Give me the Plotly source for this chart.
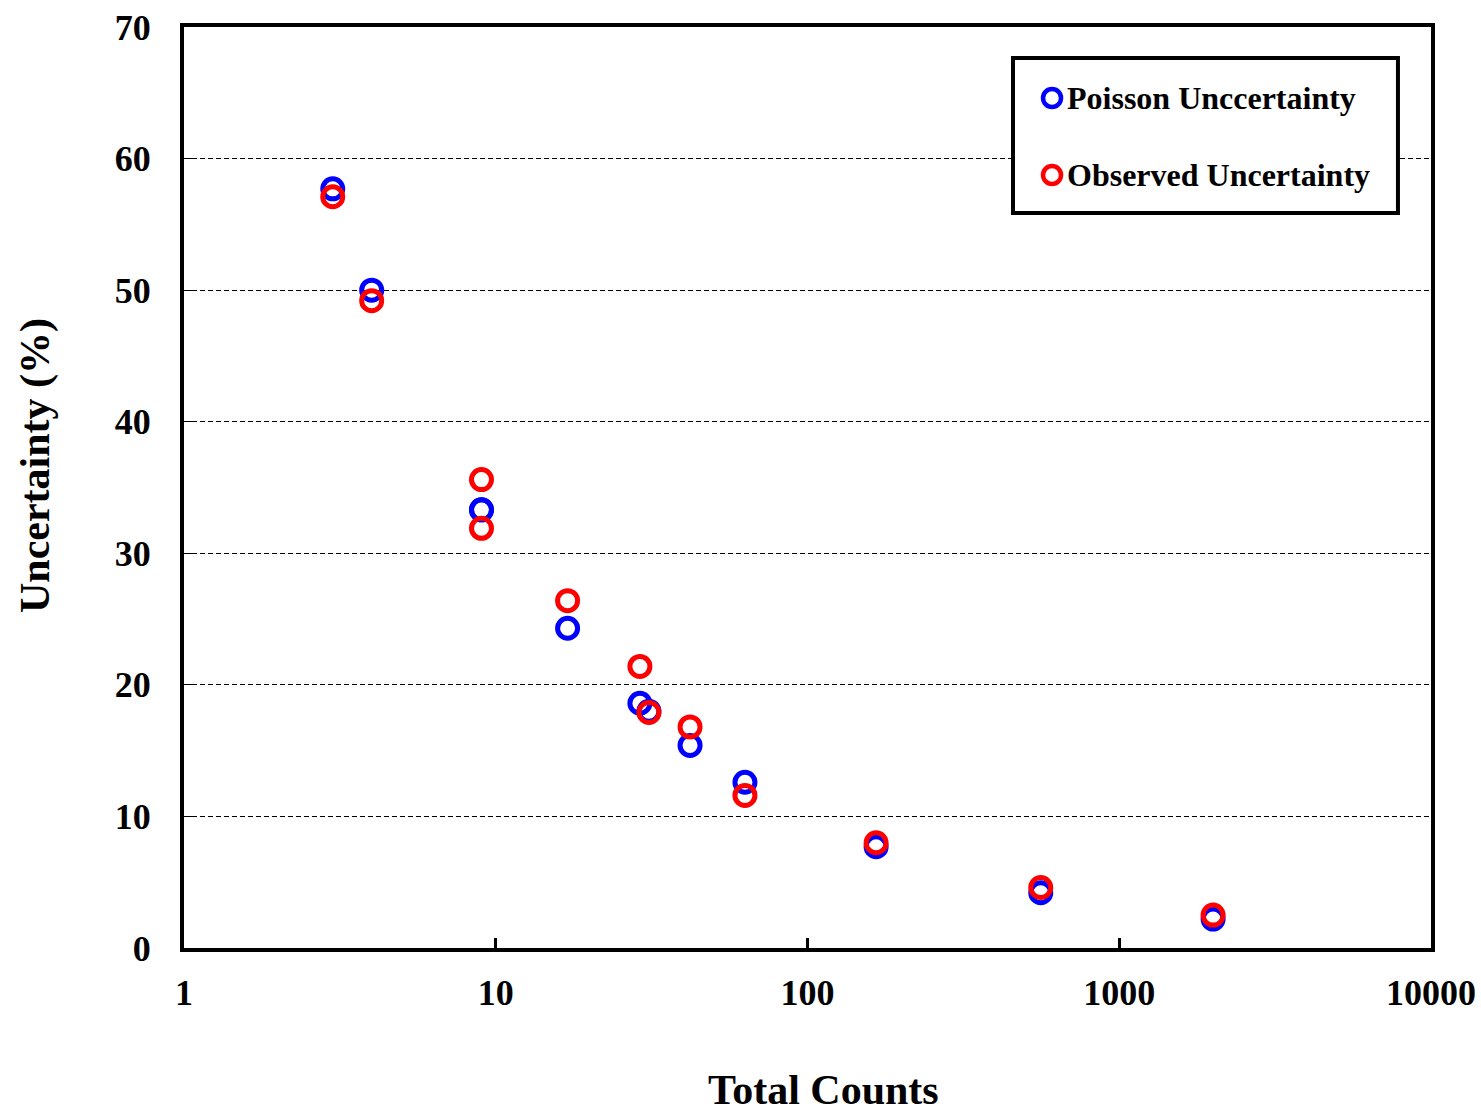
import plotly.graph_objects as go

# Total counts for each measurement (log x axis)
total_counts = [3, 4, 9, 9, 17, 29, 31, 42, 63, 166, 560, 2000]
# Poisson (1/sqrt(N)) uncertainty, in percent
poisson_unc = [57.7, 50.0, 33.3, 33.3, 24.3, 18.6, 18.0, 15.4, 12.6, 7.7, 4.2, 2.2]
# Observed uncertainty, in percent
observed_unc = [57.1, 49.2, 35.6, 31.9, 26.4, 21.4, 17.9, 16.8, 11.6, 8.0, 4.6, 2.5]

series_names = ["Poisson Unccertainty", "Observed Uncertainty"]
series_colors = ["#0000ff", "#ff0000"]

x_tick_vals = [1, 10, 100, 1000, 10000]
x_tick_text = ["1", "10", "100", "1000", "10000"]
y_tick_vals = [0, 10, 20, 30, 40, 50, 60, 70]

FONT = "Times New Roman, Liberation Serif, serif"

fig = go.Figure()
for name, ys, col in zip(series_names, [poisson_unc, observed_unc], series_colors):
    fig.add_trace(go.Scatter(
        x=total_counts, y=ys, mode="markers", name=name, showlegend=False,
        marker=dict(symbol="circle-open", size=20, color=col,
                    line=dict(width=5, color=col)),
    ))

# Boxed legend in the upper right of the plot area
shapes = [dict(type="rect", xref="paper", yref="paper",
               x0=0.6648, x1=0.9735, y0=0.798, y1=0.9663,
               line=dict(color="black", width=4), fillcolor="white", layer="above")]
annotations = []
legend_rows_y = [0.9229, 0.8393]
for name, col, ry in zip(series_names, series_colors, legend_rows_y):
    shapes.append(dict(type="circle", xref="paper", yref="paper",
                       xsizemode="pixel", ysizemode="pixel",
                       xanchor=0.6961, yanchor=ry,
                       x0=-9, x1=9, y0=-9, y1=9,
                       line=dict(color=col, width=4.5), layer="above"))
    annotations.append(dict(xref="paper", yref="paper", x=0.7065, y=ry,
                            xanchor="left", yanchor="middle", showarrow=False,
                            text="<b>" + name + "</b>",
                            font=dict(family=FONT, size=32, color="black")))

# Axis titles
annotations.append(dict(xref="paper", yref="paper", x=0.5132, y=-0.1542,
                        xanchor="center", yanchor="middle", showarrow=False,
                        text="<b>Total Counts</b>",
                        font=dict(family=FONT, size=42, color="black")))
annotations.append(dict(xref="paper", yref="paper", x=0, y=0.5233, xshift=-149,
                        xanchor="center", yanchor="middle", showarrow=False,
                        textangle=-90, text="<b>Uncertainty (%)</b>",
                        font=dict(family=FONT, size=42, color="black")))

fig.update_layout(
    width=1481, height=1113,
    margin=dict(l=184, r=50, t=27, b=165),
    paper_bgcolor="white", plot_bgcolor="white",
    font=dict(family=FONT, color="black"),
    showlegend=False,
    shapes=shapes,
    annotations=annotations,
    xaxis=dict(
        type="log", range=[0, 4], automargin=False,
        tickvals=x_tick_vals, ticktext=x_tick_text,
        tickfont=dict(family=FONT, size=36, color="black", weight="bold"),
        ticks="inside", ticklen=10, tickwidth=3, tickcolor="black",
        ticklabelstandoff=10,
        showgrid=False, zeroline=False,
        showline=True, linewidth=4, linecolor="black", mirror=True,
    ),
    yaxis=dict(
        range=[0, 70], tickvals=y_tick_vals, automargin=False,
        tickfont=dict(family=FONT, size=36, color="black", weight="bold"),
        ticks="inside", ticklen=8, tickwidth=1, tickcolor="black",
        ticklabelstandoff=22,
        showgrid=True, gridcolor="black", gridwidth=1, griddash="5px,3px",
        zeroline=False,
        showline=True, linewidth=4, linecolor="black", mirror=True,
    ),
)

fig.write_html("out.html")
